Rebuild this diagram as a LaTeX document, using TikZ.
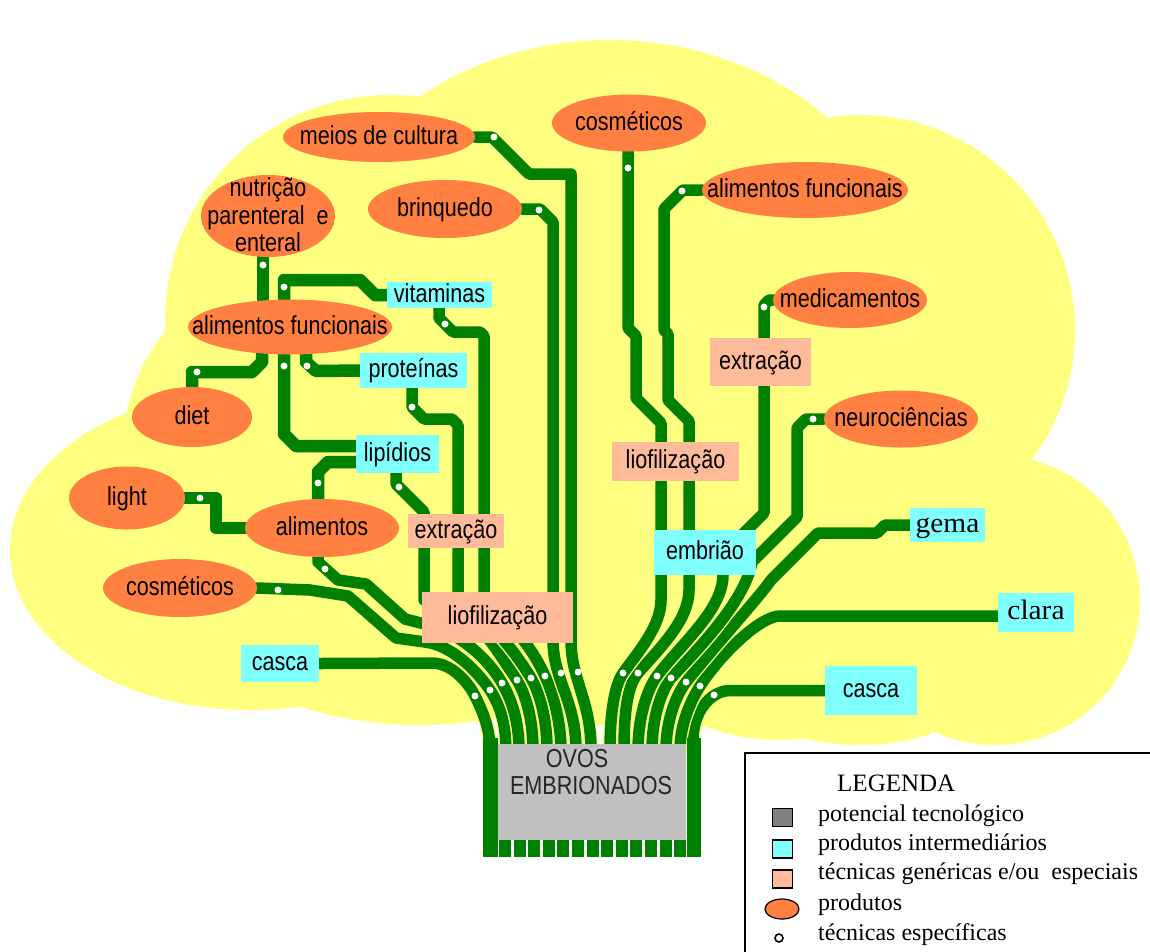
\documentclass[tikz,border=0pt]{standalone}
\usepackage{fontspec}
\setmainfont{Liberation Sans}
\newfontfamily\labfont{Liberation Sans}[FakeStretch=0.83]
\newfontfamily\legfont{Liberation Serif}
\newfontfamily\serwide{Liberation Serif}[FakeStretch=1.05]
\usetikzlibrary{shapes.geometric}
\definecolor{wgreen}{RGB}{0,128,0}
\definecolor{cloudc}{RGB}{255,255,128}
\definecolor{porange}{RGB}{255,128,64}
\definecolor{pcyan}{RGB}{128,255,255}
\definecolor{psalmon}{RGB}{255,187,153}
\definecolor{pgray}{RGB}{192,192,192}
\definecolor{lgray}{RGB}{128,128,128}
\newcommand\zlab[1]{\raisebox{-7pt}[0pt][0pt]{\makebox[0pt]{#1}}}
\newcommand\zlabm[1]{\raisebox{-9pt}[0pt][0pt]{\makebox[0pt]{#1}}}
\pgfdeclarelayer{bg}
\pgfdeclarelayer{wires}
\pgfdeclarelayer{dots}
\pgfsetlayers{bg,wires,dots,main}
\begin{document}
\begin{tikzpicture}[x=1pt,y=-1pt,
  prod/.style={ellipse, fill=porange, inner sep=0pt, font=\labfont\fontsize{26}{27.5}\selectfont},
  inter/.style={rectangle, fill=pcyan, inner sep=0pt, font=\labfont\fontsize{26}{27.5}\selectfont},
  tech/.style={rectangle, fill=psalmon, inner sep=0pt, font=\labfont\fontsize{26}{27.5}\selectfont},
  wire/.style={draw=wgreen, line width=12.5pt, line cap=round, line join=round},
  bwire/.style={draw=cloudc, double=wgreen, double distance=11.5pt, line width=1.4pt, line cap=round, line join=round},
  legsq/.style={rectangle, draw=black, line width=1.5pt, minimum width=20pt, minimum height=18pt, inner sep=0pt},
  legtxt/.style={anchor=base west, inner sep=0pt, font=\legfont\fontsize{24}{28}\selectfont}]
\useasboundingbox (0,0) rectangle (1150,951);

% ---------- background cloud ----------
\begin{pgfonlayer}{bg}
\fill[cloudc] (390,320) circle (225);
\fill[cloudc] (610,290) ellipse [x radius=300, y radius=250];
\fill[cloudc] (860,330) circle (215);
\fill[cloudc] (995,600) circle (145);
\fill[cloudc] (290,440) circle (165);
\fill[cloudc] (250,550) ellipse [x radius=240, y radius=160];
\fill[cloudc] (420,560) ellipse [x radius=260, y radius=165];
\fill[cloudc] (860,570) ellipse [x radius=200, y radius=175];
\fill[cloudc] (780,640) ellipse [x radius=150, y radius=100];
\fill[cloudc] (600,450) ellipse [x radius=420, y radius=275];
\end{pgfonlayer}

% ---------- products (ellipses) ----------
\node[prod, minimum width=192pt, minimum height=50pt] (meios) at (379,137) {\zlab{meios de cultura}};
\node[prod, minimum width=134pt, minimum height=82pt] (nutri) at (268,216) {\zlabm{\begin{tabular}{@{}c@{}}nutrição\\parenteral\ \ e\\enteral\end{tabular}}};
\node[prod, minimum width=154pt, minimum height=58pt] (brinq) at (445,209) {\zlab{brinquedo}};
\node[prod, minimum width=204pt, minimum height=55pt] (alfL) at (290,327) {\zlab{alimentos funcionais}};
\node[prod, minimum width=120pt, minimum height=60pt] (diet) at (192,417) {\zlab{diet}};
\node[prod, minimum width=116pt, minimum height=63pt] (light) at (127,498) {\zlab{light}};
\node[prod, minimum width=154pt, minimum height=58pt] (alim) at (322,528) {\zlab{alimentos}};
\node[prod, minimum width=154pt, minimum height=58pt] (cosmL) at (180,588) {\zlab{cosméticos}};
\node[prod, minimum width=154pt, minimum height=57pt] (cosmT) at (629,123) {\zlab{cosméticos}};
\node[prod, minimum width=206pt, minimum height=56pt] (alfR) at (805,190) {\zlab{alimentos funcionais}};
\node[prod, minimum width=154pt, minimum height=56pt] (med) at (850,300) {\zlab{medicamentos}};
\node[prod, minimum width=154pt, minimum height=57pt] (neuro) at (901,419) {\zlab{neurociências}};

% ---------- intermediate products ----------
\node[inter, minimum width=105pt, minimum height=26pt] (vit) at (439.5,295) {\zlab{vitaminas}};
\node[inter, minimum width=107pt, minimum height=35pt] (prot) at (413.5,370.5) {\zlab{proteínas}};
\node[inter, minimum width=83pt, minimum height=38pt] (lip) at (397.5,454) {\zlab{lipídios}};
\node[inter, minimum width=78pt, minimum height=37pt] (cascaL) at (280,663.5) {\zlab{casca}};
\node[inter, minimum width=102pt, minimum height=45pt] (embr) at (705,552.5) {\zlab{embrião}};
\node[inter, minimum width=75pt, minimum height=34pt, font=\serwide\fontsize{28}{30}\selectfont] (gema) at (947.5,525) {\zlab{gema}};
\node[inter, minimum width=76pt, minimum height=39pt, font=\serwide\fontsize{28}{30}\selectfont] (clara) at (1036,612.5) {\zlab{clara}};
\node[inter, minimum width=92pt, minimum height=49pt] (cascaR) at (871,690.5) {\zlab{casca}};

% ---------- techniques ----------
\node[tech, minimum width=96pt, minimum height=34pt] (extL) at (456,531) {\zlab{extração}};
\node[tech, minimum width=151pt, minimum height=51pt] (liofL) at (497.5,617.5) {\zlab{liofilização}};
\node[tech, minimum width=101pt, minimum height=48pt] (extR) at (760.5,362) {\zlab{extração}};
\node[tech, minimum width=127pt, minimum height=39pt] (liofR) at (675.5,461.5) {\zlab{liofilização}};

% ---------- trunk box ----------
\node[rectangle, fill=pgray, minimum width=188pt, minimum height=96pt, inner sep=0pt] (ovos) at (592,792) {};
\node[anchor=base, inner sep=0pt, font=\labfont\fontsize{26}{27}\selectfont, text=black!85] (ovosA) at (577,767) {OVOS};
\node[anchor=base, inner sep=0pt, font=\labfont\fontsize{26}{27}\selectfont, text=black!85] (ovosB) at (591,794) {EMBRIONADOS};

% ---------- wires ----------
\begin{pgfonlayer}{wires}
% upper left small connections
\draw[wire] (nutri.south -| 263,0) -- (alfL.north -| 263,0);
\draw[wire] (vit.west) -- (375,295) -- (360,280) -- (284,280) -- (alfL.north -| 284,0);
\draw[wire] (alfL.south -| 262,0) -- (262,362) -- (252,372) -- (192,372) -- (diet.north -| 192,0);
\draw[wire] (alfL.south -| 284,0) -- (284,434) -- (296,446) -- ([yshift=8pt]lip.west);
\draw[wire] (alfL.south -| 306,0) -- (306,362) -- (316,371) -- (prot.west);
\draw[wire] ([yshift=-8pt]lip.west) -- (328,462) -- (318,472) -- (alim.north -| 318,0);
\draw[wire] (light.east) -- (216,498) -- (216,528) -- (alim.west);
% left bundle
\draw[bwire] (cascaL.east) -- (432,663) .. controls (450,663) and (467,680) .. (475,696) .. controls (484,714) and (490,730) .. (490,750);
\draw[bwire] (cosmL.east) -- (310,590) -- (348,596) -- (396,638) -- (425,642) .. controls (450,645) and (475,668) .. (490,690) .. controls (501,707) and (506,725) .. (506,750);
\draw[bwire] (alim.south -| 318,0) -- (318,562) -- (338,580) -- (366,584) -- (405,619) -- (425,624) .. controls (455,631) and (486,655) .. (502,683) .. controls (512,700) and (519,722) .. (519,750);
\draw[bwire] (lip.south -| 396,0) -- (396,484) -- (424,512) -- (424,600) -- (470,622) .. controls (486,630) and (503,660) .. (517,680) .. controls (527,697) and (533,722) .. (533,750);
\draw[bwire] (prot.south -| 412,0) -- (412,407) -- (424,419) -- (452,419) -- (458,425) -- (458,610) -- (490,628) .. controls (502,635) and (520,660) .. (531,678) .. controls (541,695) and (547,722) .. (547,750);
\draw[bwire] (vit.south -| 439,0) -- (439,318) -- (453,332) -- (480,332) -- (484,336) -- (484,610) -- (509,626) .. controls (522,635) and (537,658) .. (545,676) .. controls (553,693) and (561,722) .. (561,750);
\draw[bwire] (brinq.east) -- (540,209) -- (553,222) -- (553,640) .. controls (553,680) and (576,700) .. (576,750);
\draw[bwire] (meios.east) -- (492,137) -- (529,174) -- (571,174) -- (571,640) .. controls (571,680) and (591,700) .. (591,750);
% right bundle
\draw[bwire] (cascaR.west) -- (730,690.5) .. controls (712,690.5) and (693,710) .. (693,740) -- (693,750);
\draw[bwire] ([yshift=-3.5pt]clara.west) -- (780,616) .. controls (760,616) and (720,655) .. (700,686) .. controls (690,702) and (680,725) .. (680,750);
\draw[bwire] (gema.west) -- (885,525) -- (877,533) -- (818,533) -- (771,580) .. controls (760,596) and (720,640) .. (686,682) .. controls (675,697) and (666,722) .. (666,750);
\draw[bwire] (neuro.west) -- (806,419) -- (797,428) -- (797,517) -- (752,562) .. controls (745,600) and (702,645) .. (671,678) .. controls (660,693) and (652,720) .. (652,750);
\draw[bwire] (med.west) -- (769,300) -- (764,305) -- (764,513) -- (745,532) -- (723,554) -- (723,575) .. controls (723,610) and (680,645) .. (657,676) .. controls (646,691) and (638,720) .. (638,750);
\draw[bwire] (alfR.west) -- (683,190) -- (664,209) -- (664,330) -- (668,334) -- (668,400) -- (689,421) -- (689,590) .. controls (689,620) and (660,648) .. (638,673) .. controls (626,687) and (624,720) .. (624,750);
\draw[bwire] (cosmT.south -| 628,0) -- (628,328) -- (636,336) -- (636,398) -- (661,423) -- (661,600) .. controls (661,625) and (640,650) .. (623,673) .. controls (613,688) and (610,720) .. (610,750);
% frame of the trunk box
\fill[wgreen] (483,738) rectangle (498,857);
\fill[wgreen] (687,738) rectangle (701,857);
\foreach \i in {0,...,12} \fill[wgreen] ({499+\i*14.6},840) rectangle ++(12,17);
\end{pgfonlayer}

% ---------- dots (specific techniques) ----------
\begin{pgfonlayer}{dots}
\foreach \x/\y in {263/265, 284/287, 197/372, 284/366, 307/366, 318/483, 200/498,
  278/590, 325/569, 399/487, 412/407, 445/324, 539/210, 494/137,
  628/168, 682/191, 764/307, 813/419,
  475/696, 490/690, 502/683, 517/680, 531/678, 545/676, 561/673, 578/672,
  623/673, 638/673, 657/676, 671/678, 686/682, 700/686, 714/695}
  \fill[white] (\x,\y) circle (3.5);
\end{pgfonlayer}

% ---------- legend ----------
\draw[line width=1.6pt, fill=white] (745,753) rectangle (1165,965);
\node[legtxt, font=\legfont\fontsize{25}{28}\selectfont] (legT) at (837,791) {LEGENDA};
\node[legsq, fill=lgray] (lg1) at (782.5,817.5) {};
\node[legsq, fill=pcyan] (lg2) at (782.5,849) {};
\node[legsq, fill=psalmon] (lg3) at (782.5,879) {};
\node[ellipse, draw=black, line width=1.2pt, fill=porange, minimum width=34pt, minimum height=20pt, inner sep=0pt] (lg4) at (782,909) {};
\node[circle, draw=black, line width=1.6pt, fill=white, minimum size=8pt, inner sep=0pt] (lg5) at (779,938) {};
\node[legtxt] (lt1) at (818,821) {potencial tecnológico};
\node[legtxt] (lt2) at (818,850) {produtos intermediários};
\node[legtxt] (lt3) at (818,879) {técnicas genéricas e/ou\ \ especiais};
\node[legtxt] (lt4) at (818,910) {produtos};
\node[legtxt] (lt5) at (818,940) {técnicas específicas};
\end{tikzpicture}
\end{document}
